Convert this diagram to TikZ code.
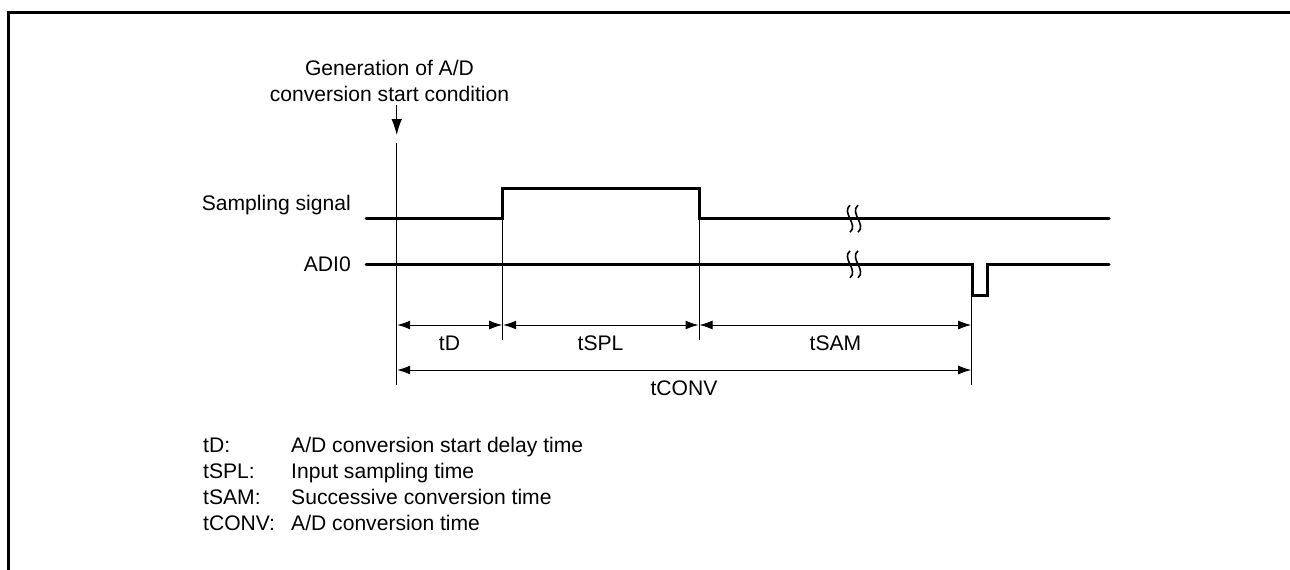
\documentclass[tikz,border=0pt]{standalone}
\usepackage{fontspec}
\setmainfont{Liberation Sans}
\usetikzlibrary{arrows.meta}
\tikzset{
 x=1pt,y=-1pt,
 sig/.style={line width=3pt,line cap=round,line join=miter},
 guide/.style={line width=1pt},
 dim/.style={line width=1pt,{Latex[length=13pt,width=9pt]}-{Latex[length=13pt,width=9pt]},shorten <=0.5pt,shorten >=0.5pt},
 lab/.style={inner sep=0pt,font=\fontsize{21.1}{26}\selectfont},
 cen/.style={lab,anchor=base},
 rgt/.style={lab,anchor=base east},
 leg/.style={lab,anchor=base west},
 brk/.style={line width=1.6pt},
}
\begin{document}
\begin{tikzpicture}
\useasboundingbox (0,0) rectangle (1290,570);
\draw[line width=3pt] (8.5,570) -- (8.5,12.5) -- (1290,12.5);
% guides
\coordinate (a0) at (396.7,143); \coordinate (a1) at (396.7,385);
\coordinate (b0) at (502.7,188); \coordinate (b1) at (502.7,340);
\coordinate (c0) at (699,188); \coordinate (c1) at (699,340);
\coordinate (e0) at (971.7,295); \coordinate (e1) at (971.7,385);
\draw[guide] (a0)--(a1); \draw[guide] (b0)--(b1); \draw[guide] (c0)--(c1); \draw[guide] (e0)--(e1);
% signals
\draw[sig] (366,218.7) -- (502.7,218.7) -- (502.7,188.5) -- (699,188.5) -- (699,218.7) -- (1109,218.7);
\draw[sig] (366,264.3) -- (972,264.3) -- (972,295) -- (987,295) -- (987,264.3) -- (1109,264.3);
% breaks
\foreach \yy in {218.7,264.3}{
 \foreach \xx in {850,858}{
  \draw[brk] (\xx,\yy-13.5) .. controls (\xx-9,\yy-6) and (\xx+9,\yy+6) .. (\xx,\yy+13.5);
 }
}
% dimension lines
\coordinate (t0) at (396.7,325); \coordinate (t1) at (502.7,325); \coordinate (t2) at (699,325); \coordinate (t3) at (971.7,325);
\coordinate (u0) at (396.7,370); \coordinate (u1) at (971.7,370);
\draw[dim] (t0)--(t1); \draw[dim] (t1)--(t2); \draw[dim] (t2)--(t3); \draw[dim] (u0)--(u1);
% arrow
\coordinate (s0) at (396.7,105); \coordinate (s1) at (396.7,135);
\draw[line width=1pt,-{Latex[length=16pt,width=10.5pt]}] (s0)--(s1);
% text
\node[cen] (gen1) at (389.5,75) {Generation of A/D};
\node[cen] (gen2) at (389.5,101) {conversion start condition};
\node[rgt] (ss) at (351,210) {Sampling signal};
\node[rgt] (adi) at (351,271) {ADI0};
\node[cen] (td) at (449.5,350) {tD};
\node[cen] (tspl) at (600.5,350) {tSPL};
\node[cen] (tsam) at (835.5,350) {tSAM};
\node[cen] (tconv) at (684,395) {tCONV};
\node[leg] (l1) at (203,452.7) {tD:};
\node[leg] (d1) at (291,452.7) {A/D conversion start delay time};
\node[leg] (l2) at (203,478.7) {tSPL:};
\node[leg] (d2) at (291,478.7) {Input sampling time};
\node[leg] (l3) at (203,504.7) {tSAM:};
\node[leg] (d3) at (291,504.7) {Successive conversion time};
\node[leg] (l4) at (203,530.5) {tCONV:};
\node[leg] (d4) at (291,530.5) {A/D conversion time};
\end{tikzpicture}
\end{document}
